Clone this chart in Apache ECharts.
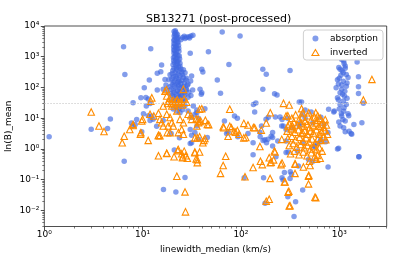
<!DOCTYPE html>
<html><head><meta charset="utf-8">
<script src="https://cdn.jsdelivr.net/npm/echarts@6/dist/echarts.min.js"></script>
<style>html,body{margin:0;padding:0;background:#fff}#c{width:399px;height:266px}</style>
</head><body><div id="c"></div>
<script>
const titleText = 'SB13271 (post-processed)';
const xName = 'linewidth_median (km/s)';
const yName = 'ln(B)_mean';
const xMajor = [1, 10, 100, 1000];
const yMajor = [0.01, 0.1, 1, 10, 100, 1000, 10000];
const refLine = 30;

const absorption = [
 [1.12,2.5],[3.0,4.4],[4.4,4.6],[4.7,9.5],[6.4,2100],[6.6,265],[6.5,0.40],[7.7,7],[7.9,5.5],[8.0,32],[8.4,6.3],[8.7,9],[9.6,46],[9.8,3.6],[10.2,14],[10.4,98],[10.8,47],[10.9,25],[11.4,42],[11.4,12],[11.7,174],[11.9,30],[11.9,8.4],[12.1,1830],[12.3,11.8],[12.8,9.2],[13.9,5.5],[14.1,83],[14.1,290],[15.3,325],[15.6,540],[16.2,87],[16.2,8.4],[16.9,183],[17.3,120],[17.6,83],[16.3,0.048],[21.8,0.04],[27,0.117],[21,0.93],[19.5,3.2],[23.7,2.3],[30.5,1.5],[31.5,2.8],
 [21.5,7000],[21.8,6200],[21.2,5600],[22,5000],[21.5,4500],[22.3,4000],[21,3600],[21.8,3200],[22.5,2800],[21.3,2500],[22,2200],[21.6,2000],[22.4,1800],[21,1600],[22,1400],[21.5,1250],[22.8,1100],[21.2,1000],[22.2,900],[21.7,800],[23,720],[21,650],[22.5,580],[21.8,520],[23.2,460],[20.8,420],[22.2,380],[23.5,340],[21.4,300],[22.8,270],[24,240],[20.5,220],[22,200],[23.3,185],[25,170],[21,160],[22.6,145],[24.5,135],[20,125],[23,115],[26,110],[21.8,100],[24,92],[19.5,88],[22.5,80],[25.5,75],[21,68],[23.5,62],[27,58],[20,55],[24,50],[22,45],[26,42],[19.5,40],[23,36],[25,33],[21.5,30],[24.5,28],[27,26],[22,24],[23.5,21],[20.5,20],[25.5,19],[22.5,17],[24,15],
 [20.9,6600],[22.6,5300],[20.9,4700],[22.8,4200],[22.5,3800],[20.8,3400],[23,3000],[20.8,2650],[23.2,2350],[20.7,2100],[23.3,1900],[20.8,1700],[23.4,1500],[20.8,1320],[21.9,1180],[23.6,1050],[20.6,950],[23.8,850],[20.7,760],[22.3,680],[24,610],[20.4,550],[24,490],[22,440],[24.5,400],[20.3,360],[25,320],[20,285],[25.5,255],[21.8,230],[26,210],[19.8,190],[27.5,175],[23.5,160],[20.5,145],[26.5,140],[23,128],[28.5,118],[21,112],[19,105],[25,98],[28,85],[20.5,78],[23.5,72],[26.5,66],[19,62],[22,58],[25,55],[29,48],[21,50],[23.5,46],[20.8,36],[26.5,36],
 [27,300],[28,200],[26,380],[31.5,235],[30.8,162],[29,130],[27.5,95],[29.5,70],[18.5,180],[19,260],
 [25.5,4200],[26.5,4600],[28,4300],[29.5,4500],[31,4700],[32.5,5000],[27,3900],[30,4100],[24.5,3600],[30.5,1290],[46.7,1450],
 [32.8,25],[29,17.3],[34,13.5],[31.5,10.8],[35.6,15],[36.9,10],[35.6,5.6],[31.5,1.6],[37,2.05],[34,3.4],[30.5,4.3],[32.3,83],[38.4,87],[40,67],[31,55],[35.6,18.5],
 [40,390],[41,320],[57.5,174],[62,65],[39.5,60],[43,20.5],[45.5,2.35],[64.5,6400],[98,4720],[75.5,560],
 [86,11.8],[92,10],[68,8.1],[74,3.5],[93,2.5],[118,3.2],[133,1.6],[156,3.5],[175,2.0],[133,0.65],[108,0.115],[170,0.115],[176,0.017],[134,28],[142,31],[138,16],[167,390],[181,270],[167,87],[71.5,3.2],
 [157,2.5],[168,1.9],[182,1.6],[210,2.35],[227,0.56],[318,0.18],[316,0.11],[268,0.098],[300,0.028],[360,0.019],[347,0.0063],[425,0.046],[288,0.76],[302,0.8],[384,0.28],[487,0.45],[560,1.2],[600,1.5],[640,1.7],[985,1.05],[1580,0.56],[770,0.26],[1150,3.6],[1340,3.0],
 [316,360],[220,63],[233,57],[780,19.6],[392,34],[414,34],[450,18.6],[518,16],[224,11],[262,9.1],[210,3.4],[333,4.9],[277,0.17],[262,0.115],[327,0.15],[540,0.40],
 [540,7.1],[650,10.8],[700,6.3],[768,3.4],[730,1.7],[203,2.6],[237,1.8],[260,5.6],[188,2.05],[210,1.24],[650,2.05],[560,1.24],[425,1.6],[392,5.6],[288,4.3],[288,1.8],[375,0.86],
 [190,10.8],[162,5.6],[180,9.2],[250,11],[270,5.6],[298,10],[420,13],[450,10],[400,7],[880,16],
 [1100,3400],[1060,3000],[1080,2000],[1000,1500],[1100,1200],[1050,900],[1060,820],[1110,720],[1120,600],[1150,500],[990,450],[1150,420],[1020,390],[1070,350],[1100,300],[1180,265],[1040,250],[1230,210],[1000,200],[960,180],[1100,160],[1200,140],[980,130],[1060,120],[1180,110],[930,98],[1060,87],[1140,75],[1020,67],[1080,60],[1130,53],[960,46],[980,40],[1200,45],[1100,36],[1020,28],[1180,28],[1120,22],[1000,20],[1110,17],[890,17.3],[1050,14],[1230,14],[1250,12],[1060,11.8],[1090,9],[1150,8.1],[990,7.5],[1020,5.6],[1110,4.9],[1260,3.8],[1320,3.2],
 [1520,670],[1570,225],[1570,105],[1570,64],[1760,30.5],[1700,7.1],[1410,6.3],[960,1.0],[1590,0.56]
];

const inverted = [
 [3.0,16],[3.6,5.6],[4.05,3.7],[6.5,2.6],[6.2,1.6],[7.4,4.3],[8.0,5.8],
 [9.5,3.0],[11.4,1.9],[14.5,2.7],[15,2.7],[14.5,0.6],[17.6,0.71],[17.8,3.4],[23.1,3.4],[20.9,0.56],[22.3,0.13],[22.8,0.88],[25,0.7],[26.5,0.85],[27.5,0.6],[28.5,0.5],[25.5,0.55],[27,0.04],[27.3,0.009],[34,2.3],[36,2.3],[34,0.75],[36,0.45],
 [12.4,46],[12.1,36],[16.9,76],[17.6,53],[16.2,25],[18.2,36],[19.8,25],[21.9,36],[23,32],[26,87],[24,32],[22.3,17.3],
 [10,9.2],[9.8,8.1],[8,6.3],[11.9,13.5],[13,11.8],[14.5,14.5],[15,9.2],[15.6,7.1],[17.6,13.5],[19,10.5],[19.8,7.1],[16.2,5.6],[18.2,5.6],[20.5,5.6],[24,9.2],[26,7.1],[29,13.5],[31.5,9.2],[37,7.1],[35.6,5.6],
 [9.6,3.4],[14.5,2.8],[19,3.4],[25,4.3],[26,3.0],
 [17.6,0.73],[23,0.97],[25.5,0.52],[34,0.8],[35,0.47],
 [17.5,85],[19,45],[20.5,38],[22.5,40],[24.5,36],[23.5,30],[25.5,27],[21,28],[19.5,31],[18,30],[26.5,42],[28,33],
 [38,19.6],[40,20.5],[36.7,9.2],[39,8.1],[43.5,8.6],[45.5,6.3],[31,12],[35,9.5],[38,7.7],[47,6.2],
 [77,19.6],[67,4.9],[77,5.5],[80,4.9],[74,2.6],[85,3.7],[88,3.5],[92,4],[107,2.3],[118,6],[138,4.9],[161,4.1],[156,1.2],[181,7],[38,2.5],[41,1.6],[43,2.2],[38,0.8],[36,0.36],[70,0.58],[66,0.29],[62,0.16],[110,0.125],[133,0.25],[158,0.4],[165,0.31],[181,0.02],[198,0.11],[203,0.37],[215,0.44],[222,0.8],[256,0.31],[281,0.085],[302,0.039],[310,0.014],[355,0.16],[355,0.33],[432,0.26],[487,0.13],[487,0.073],[567,0.027],[497,0.4],[505,0.29],[587,0.46],[42,1.9],[112,2.35],[107,6.8],[134,5],[66,5.3],[96,3],
 [271,30.5],[310,27],[199,15],[414,20.5],[425,15],[490,15],[577,15],[605,12],[288,11.8],
 [300,5.6],[330,4.9],[335,5.6],[425,3.4],[260,2.05],[219,0.86],[194,0.52],[199,0.36],[262,0.35],[357,0.32],[490,0.14],[577,0.026],[194,0.023],[307,0.042],[316,0.0143],[277,0.084],
 [300,12],[330,10],[360,13],[390,9],[420,11],[450,8],[480,12],[520,9],[560,11],[600,8.5],[640,10],[680,7.5],[720,9],
 [310,6.5],[345,7.5],[375,6],[410,7],[440,5.5],[470,6.5],[500,5],[540,6],[580,7],[620,5.5],[660,6.2],[700,5],[740,6],
 [295,3.8],[325,4.5],[355,3.5],[385,4.2],[415,3.2],[445,4],[475,3],[510,3.8],[545,3.3],[585,4.2],[625,3],[665,3.6],[710,4],[760,3],
 [300,2.2],[330,2.6],[360,2],[395,2.4],[430,1.8],[460,2.3],[495,1.7],[530,2.1],[570,1.6],[610,2.2],[650,1.9],[690,2.5],[730,2],
 [310,1.3],[340,1.5],[370,1.15],[405,1.4],[440,1.1],[475,1.3],[510,1],[550,1.2],[590,0.95],[630,1.1],[670,0.85],
 [320,0.7],[350,0.85],[390,0.65],[430,0.8],[470,0.6],[520,0.75],[560,0.55],[600,0.62],[640,0.5],
 [2150,183],[1760,39]
];

const xMin = 1, xMax = 3040, yMin = 0.003, yMax = 10000;
function minorTicks(lo, hi) {
  const out = [];
  for (let e = Math.floor(Math.log10(lo)); e <= Math.ceil(Math.log10(hi)); e++) {
    for (let m = 2; m <= 9; m++) { const v = m * Math.pow(10, e); if (v >= lo && v <= hi) out.push(+v.toPrecision(6)); }
  }
  return out;
}
const supMap = {'-':'\u207B','0':'\u2070','1':'\u00B9','2':'\u00B2','3':'\u00B3','4':'\u2074','5':'\u2075'};
function fmt(v) { const e = Math.round(Math.log10(v)); return '10' + String(e).split('').map(c => supMap[c]).join(''); }

const FONT = 'DejaVu Sans';
const chart = echarts.init(document.getElementById('c'), null, {renderer: 'canvas'});
const axisCommon = {type: 'log', logBase: 10, splitLine: {show: false}, axisLine: {show: false}};
chart.setOption({
  animation: false,
  textStyle: {fontFamily: FONT},
  title: {text: titleText, left: 141, top: 9, textStyle: {fontFamily: FONT, fontSize: 11, fontWeight: 'normal', color: '#000'}},
  legend: {
    data: [
      {name: 'absorption', icon: 'circle', itemStyle: {color: '#4169E1', opacity: 0.65}},
      {name: 'inverted', icon: 'triangle', itemStyle: {color: 'rgba(255,255,255,0)', borderColor: '#FF8C00', borderWidth: 1.1}}
    ],
    orient: 'vertical', right: 16, top: 30,
    backgroundColor: '#fff', borderColor: '#d0d0d0', borderWidth: 1, borderRadius: 3,
    padding: [4, 5, 3, 8], itemGap: 5, itemWidth: 7, itemHeight: 6,
    textStyle: {fontFamily: FONT, fontSize: 9, color: '#000', padding: [0, 0, 0, 6]}
  },
  grid: {left: 44.3, right: 12.3, top: 26, bottom: 39.5, containLabel: false, outerBoundsMode: 'none',
    show: true, borderColor: '#222', borderWidth: 0.8, backgroundColor: 'transparent'},
  xAxis: [
    Object.assign({}, axisCommon, {min: xMin, max: xMax, name: xName, nameLocation: 'middle', nameGap: 19, nameMoveOverlap: false,
      nameTextStyle: {fontFamily: FONT, fontSize: 9, color: '#000'},
      axisTick: {show: true, length: 3.5, lineStyle: {color: '#222', width: 0.8}, customValues: xMajor},
      axisLabel: {show: true, customValues: xMajor, formatter: fmt, margin: 4, fontFamily: FONT, fontSize: 9, color: '#000'}}),
    Object.assign({}, axisCommon, {min: xMin, max: xMax, position: 'bottom',
      axisTick: {show: true, length: 2, lineStyle: {color: '#222', width: 0.6}, customValues: minorTicks(xMin, xMax)},
      axisLabel: {show: false}})
  ],
  yAxis: [
    Object.assign({}, axisCommon, {min: yMin, max: yMax, name: yName, nameLocation: 'middle', nameGap: 31, nameRotate: 90, nameMoveOverlap: false,
      nameTextStyle: {fontFamily: FONT, fontSize: 9, color: '#000'},
      axisTick: {show: true, length: 3.5, lineStyle: {color: '#222', width: 0.8}, customValues: yMajor},
      axisLabel: {show: true, customValues: yMajor, formatter: fmt, margin: 5, fontFamily: FONT, fontSize: 9, color: '#000'}}),
    Object.assign({}, axisCommon, {min: yMin, max: yMax, position: 'left',
      axisTick: {show: true, length: 2, lineStyle: {color: '#222', width: 0.6}, customValues: minorTicks(yMin, yMax)},
      axisLabel: {show: false}})
  ],
  series: [
    {name: 'ref', type: 'line', data: [], silent: true, z: 1,
      markLine: {silent: true, symbol: 'none', label: {show: false}, lineStyle: {type: [1.5, 1.5], color: '#c8c8c8', width: 0.8}, data: [{yAxis: refLine}]}},
    {name: 'absorption', type: 'scatter', data: absorption, symbol: 'circle', symbolSize: 5.5, z: 2,
      itemStyle: {color: '#4169E1', opacity: 0.65}},
    {name: 'inverted', type: 'scatter', data: inverted, symbol: 'triangle', symbolSize: 6.5, z: 3,
      itemStyle: {color: 'rgba(255,255,255,0)', borderColor: '#FF8C00', borderWidth: 1.1, opacity: 1}}
  ]
});
</script></body></html>
